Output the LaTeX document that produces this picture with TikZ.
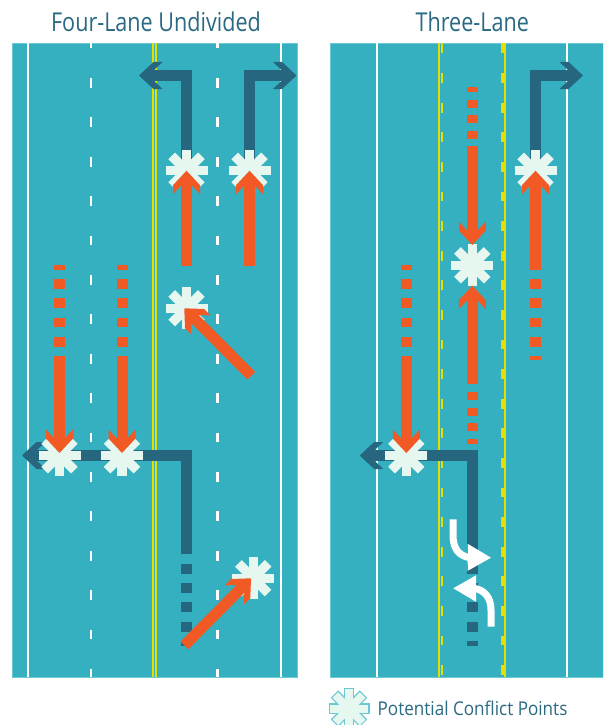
\documentclass[tikz,border=0pt]{standalone}
\usepackage{fontspec}
\newfontfamily\titlefont[FakeStretch=0.83]{Open Sans}
\newfontfamily\legendfont[FakeStretch=0.9]{Open Sans}
\usetikzlibrary{calc}

\definecolor{roadteal}{HTML}{35B0C0}
\definecolor{roadedge}{HTML}{6CC8D3}
\definecolor{pathblue}{HTML}{26667F}
\definecolor{pathorange}{HTML}{F15A24}
\definecolor{starfill}{HTML}{E6F7EF}
\definecolor{lineyellow}{HTML}{E6DE00}
\definecolor{titleblue}{HTML}{2A6A82}

\tikzset{
    road/.style={fill=roadteal, draw=roadedge, line width=0.7pt},
    edgeline/.style={white, line width=2.2pt},
    lanedash/.style={white, line width=2.3pt, dash pattern=on 9.8pt off 29.6pt, dash phase=4.7pt},
    yellowline/.style={lineyellow, line width=2.3pt},
    yellowdash/.style={lineyellow, line width=2.4pt, dash pattern=on 9.8pt off 19.8pt},
    bluepath/.style={pathblue, line width=11pt, shorten >=14pt},
    orangepath/.style={pathorange, line width=11pt, shorten >=14pt},
    whitepath/.style={white, line width=7pt},
    titletext/.style={font=\titlefont\fontsize{26}{26}\selectfont, text=titleblue, anchor=base, inner sep=0pt},
    legendtext/.style={font=\legendfont\fontsize{19}{19}\selectfont, text=titleblue, anchor=base west, inner sep=0pt},
    tipmark/.pic={
        \fill[pic actions] (0,0) -- (-14.5,-13.5) -- (-23.5,-13.5) -- (-15,-5.5)
            -- (-15,5.5) -- (-23.5,13.5) -- (-14.5,13.5) -- cycle;
    },
    conflict/.pic={
        \foreach \a in {0,45,90,135}
            \draw[starfill, line width=9.4pt] (\a:-21pt) -- (\a:21pt);
    },
    legendstar/.pic={
        \foreach \a in {0,45,90,135}
            \draw[roadedge, line width=10.6pt] (\a:-20.5pt) -- (\a:20.5pt);
        \foreach \a in {0,45,90,135}
            \draw[starfill, line width=8pt] (\a:-19.3pt) -- (\a:19.3pt);
    }
}

\begin{document}
\begin{tikzpicture}[x=1pt, y=-1pt, line cap=butt]
    \clip (0,0) rectangle (603,725);
    \fill[white] (0,0) rectangle (603,725);

    % roads
    \draw[road] (12,43.3) rectangle (297,677);
    \draw[road] (330,43.3) rectangle (603.5,677);

    \foreach \x in {28,281,377.3,567.3}
        \draw[edgeline] (\x,43.3) -- (\x,677);
    \foreach \x in {91,217.5}
        \draw[lanedash] (\x,43.3) -- (\x,677);
    \foreach \x in {153,156.2,439,505}
        \draw[yellowline] (\x,43.3) -- (\x,677);
    \foreach \x in {442,502.3}
        \draw[yellowdash] (\x,43.5) -- (\x,677);

    \node[titletext] (titleleft) at (156,31.3) {Four-Lane Undivided};
    \node[titletext] (titleright) at (472.3,31.3) {Three-Lane};

    % conflict points
    \coordinate (cA) at (186.5,170.7);
    \coordinate (cB) at (249.5,170.7);
    \coordinate (cC) at (186.5,308.3);
    \coordinate (cD) at (59.5,455.3);
    \coordinate (cE) at (122,455.3);
    \coordinate (cF) at (253.3,578.2);
    \coordinate (cG) at (535.5,170.7);
    \coordinate (cH) at (472.3,265.3);
    \coordinate (cI) at (406.3,455.3);

    % blue turning paths
    \coordinate (bendA) at (186.5,75.5);
    \coordinate (tipA) at (139,75.5);
    \coordinate (bendB) at (249.5,75.5);
    \coordinate (tipB) at (296.5,75.5);
    \coordinate (bendC) at (535.5,75.5);
    \coordinate (tipC) at (583,75.5);
    \coordinate (startD) at (186.5,554.3);
    \coordinate (bendD) at (186.5,455.5);
    \coordinate (tipD) at (22,455.5);
    \coordinate (startE) at (472.3,554.3);
    \coordinate (bendE) at (472.3,455.5);
    \coordinate (tipE) at (359.7,455.5);

    \draw[bluepath] (cA) -- (bendA) -- (tipA);
    \draw[bluepath] (cB) -- (bendB) -- (tipB);
    \draw[bluepath] (cG) -- (bendC) -- (tipC);
    \draw[bluepath] (startD) -- (bendD) -- (tipD);
    \draw[bluepath] (startE) -- (bendE) -- (tipE);
    \pic[fill=pathblue, rotate=180] at (tipA) {tipmark};
    \pic[fill=pathblue] at (tipB) {tipmark};
    \pic[fill=pathblue] at (tipC) {tipmark};
    \pic[fill=pathblue, rotate=180] at (tipD) {tipmark};
    \pic[fill=pathblue, rotate=180] at (tipE) {tipmark};

    \foreach \a/\b in {564/574,583.3/593.3,602.3/612.3,621.7/631.7,641/645.7} {
        \draw[pathblue, line width=11pt] (186.5,\a) -- (186.5,\b);
        \draw[pathblue, line width=11pt] (472.3,\a) -- (472.3,\b);
    }

    \foreach \c in {cA,cB,cC,cD,cE,cF,cG,cH,cI}
        \pic at (\c) {conflict};

    % orange paths
    \coordinate (startA) at (186.5,266);
    \coordinate (startB) at (249.5,266);
    \coordinate (startC) at (251.3,375.7);
    \coordinate (tipF) at (184.3,308.3);
    \coordinate (startF) at (59.5,356);
    \coordinate (tipG) at (59.5,453);
    \coordinate (startG) at (122,356);
    \coordinate (tipH) at (122,453);
    \coordinate (startH) at (184.5,645.3);
    \coordinate (tipI) at (251,578.3);
    \coordinate (startI) at (535.5,270);
    \coordinate (startJ) at (472.3,146.3);
    \coordinate (tipJ) at (472.3,245);
    \coordinate (startK) at (472.3,384.3);
    \coordinate (tipK) at (472.3,285.7);
    \coordinate (startL) at (406.3,356);
    \coordinate (tipL) at (406.3,453);

    \draw[orangepath] (startA) -- (cA);
    \draw[orangepath] (startB) -- (cB);
    \draw[orangepath] (startC) -- (tipF);
    \draw[orangepath] (startF) -- (tipG);
    \draw[orangepath] (startG) -- (tipH);
    \draw[orangepath] (startH) -- (tipI);
    \draw[orangepath] (startI) -- (cG);
    \draw[orangepath] (startJ) -- (tipJ);
    \draw[orangepath] (startK) -- (tipK);
    \draw[orangepath] (startL) -- (tipL);
    \pic[fill=pathorange, rotate=90] at (cA) {tipmark};
    \pic[fill=pathorange, rotate=90] at (cB) {tipmark};
    \pic[fill=pathorange, rotate=135] at (tipF) {tipmark};
    \pic[fill=pathorange, rotate=-90] at (tipG) {tipmark};
    \pic[fill=pathorange, rotate=-90] at (tipH) {tipmark};
    \pic[fill=pathorange, rotate=45] at (tipI) {tipmark};
    \pic[fill=pathorange, rotate=90] at (cG) {tipmark};
    \pic[fill=pathorange, rotate=-90] at (tipJ) {tipmark};
    \pic[fill=pathorange, rotate=90] at (tipK) {tipmark};
    \pic[fill=pathorange, rotate=-90] at (tipL) {tipmark};

    \foreach \x in {59.5,122,406.3}
        \foreach \a/\b in {265.3/270,279.3/289.3,298.3/308.3,317.7/327.3,337/346.7}
            \draw[pathorange, line width=11pt] (\x,\a) -- (\x,\b);
    \foreach \a/\b in {279.3/289.3,298.3/308.3,317.7/327.3,337/346.7,355.7/360.3}
        \draw[pathorange, line width=11pt] (535.5,\a) -- (535.5,\b);
    \foreach \a/\b in {87.3/92,99.7/107.7,115.3/123.3,131/139,392.3/400,407.7/415.7,423.3/431.3,439/443.7}
        \draw[pathorange, line width=11pt] (472.3,\a) -- (472.3,\b);

    % white turn arrows
    \coordinate (startM) at (453,519.3);
    \coordinate (tipM) at (491,557.7);
    \coordinate (startN) at (491,626.7);
    \coordinate (tipN) at (453.3,588.3);
    \draw[whitepath] (startM) -- (453,535) .. controls (453,549) and (459,556) .. (470,557.7);
    \draw[whitepath] (startN) -- (491,610) .. controls (491,598) and (485,590) .. (474,588.3);
    \fill[white] (tipM) -- (467.7,570.8) -- (467.7,543.8) -- cycle;
    \fill[white] (tipN) -- (476,575.3) -- (476,601.8) -- cycle;

    % legend
    \coordinate (legendpoint) at (349,708.7);
    \pic at (legendpoint) {legendstar};
    \node[legendtext] (legendlabel) at (377.5,715) {Potential Conflict Points};
\end{tikzpicture}
\end{document}
